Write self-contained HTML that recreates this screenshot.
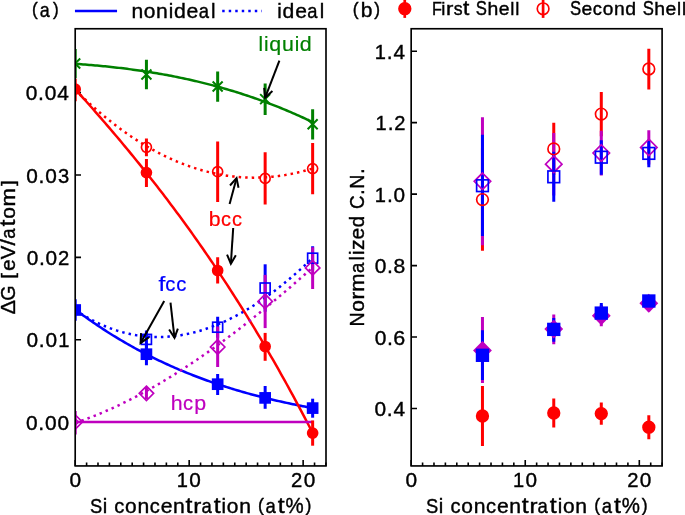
<!DOCTYPE html><html><head><meta charset="utf-8"><style>html,body{margin:0;padding:0;background:#fff;}svg{display:block;will-change:transform;}svg text{font-family:"Liberation Sans", sans-serif;}</style></head><body><svg width="685" height="515" viewBox="0 0 685 515" font-family="&quot;Liberation Sans&quot;, sans-serif" font-size="20">
<rect width="685" height="515" fill="#ffffff"/>
<defs><clipPath id="ca"><rect x="75.2" y="28.75" width="250.80" height="437.19"/></clipPath><clipPath id="cb"><rect x="411.17" y="28.75" width="250.93" height="437.19"/></clipPath></defs>
<path d="M75.20,465.94V460.11M86.60,465.94V462.61M97.99,465.94V462.61M109.39,465.94V462.61M120.79,465.94V462.61M132.19,465.94V462.61M143.58,465.94V462.61M154.98,465.94V462.61M166.38,465.94V462.61M177.77,465.94V462.61M189.17,465.94V460.11M200.57,465.94V462.61M211.96,465.94V462.61M223.36,465.94V462.61M234.76,465.94V462.61M246.16,465.94V462.61M257.55,465.94V462.61M268.95,465.94V462.61M280.35,465.94V462.61M291.74,465.94V462.61M303.14,465.94V460.11M314.54,465.94V462.61M325.93,465.94V462.61M75.20,422.20H81.03M75.20,339.80H81.03M75.20,257.40H81.03M75.20,175.00H81.03M75.20,92.60H81.03" stroke="#000" stroke-width="1.6" fill="none"/>
<g clip-path="url(#ca)">
<path d="M75.20,63.82 L77.20,63.96 L79.19,64.11 L81.19,64.25 L83.18,64.40 L85.18,64.56 L87.17,64.72 L89.17,64.88 L91.17,65.05 L93.16,65.22 L95.16,65.40 L97.15,65.58 L99.15,65.76 L101.15,65.95 L103.14,66.15 L105.14,66.35 L107.13,66.55 L109.13,66.76 L111.12,66.97 L113.12,67.19 L115.12,67.41 L117.11,67.64 L119.11,67.88 L121.10,68.11 L123.10,68.36 L125.09,68.60 L127.09,68.86 L129.09,69.12 L131.08,69.38 L133.08,69.65 L135.07,69.92 L137.07,70.20 L139.07,70.49 L141.06,70.78 L143.06,71.08 L145.05,71.38 L147.05,71.69 L149.04,72.00 L151.04,72.32 L153.04,72.65 L155.03,72.98 L157.03,73.32 L159.02,73.66 L161.02,74.01 L163.02,74.37 L165.01,74.73 L167.01,75.10 L169.00,75.47 L171.00,75.85 L172.99,76.24 L174.99,76.63 L176.99,77.03 L178.98,77.44 L180.98,77.85 L182.97,78.27 L184.97,78.70 L186.96,79.13 L188.96,79.57 L190.96,80.02 L192.95,80.47 L194.95,80.93 L196.94,81.40 L198.94,81.87 L200.94,82.35 L202.93,82.84 L204.93,83.34 L206.92,83.84 L208.92,84.35 L210.91,84.87 L212.91,85.39 L214.91,85.93 L216.90,86.47 L218.90,87.01 L220.89,87.57 L222.89,88.13 L224.88,88.70 L226.88,89.28 L228.88,89.87 L230.87,90.46 L232.87,91.06 L234.86,91.67 L236.86,92.29 L238.86,92.92 L240.85,93.55 L242.85,94.19 L244.84,94.84 L246.84,95.50 L248.83,96.17 L250.83,96.84 L252.83,97.53 L254.82,98.22 L256.82,98.92 L258.81,99.63 L260.81,100.35 L262.81,101.07 L264.80,101.81 L266.80,102.55 L268.79,103.31 L270.79,104.07 L272.78,104.84 L274.78,105.62 L276.78,106.41 L278.77,107.21 L280.77,108.01 L282.76,108.83 L284.76,109.65 L286.75,110.49 L288.75,111.33 L290.75,112.19 L292.74,113.05 L294.74,113.92 L296.73,114.80 L298.73,115.70 L300.73,116.60 L302.72,117.51 L304.72,118.43 L306.71,119.36 L308.71,120.30 L310.70,121.25 L312.70,122.21" fill="none" stroke="#008000" stroke-width="2.5" stroke-linejoin="round" stroke-linecap="square"/>
<path d="M75.20,309.50 L77.20,310.99 L79.19,312.47 L81.19,313.94 L83.18,315.39 L85.18,316.82 L87.17,318.24 L89.17,319.65 L91.17,321.04 L93.16,322.42 L95.16,323.78 L97.15,325.13 L99.15,326.47 L101.15,327.79 L103.14,329.10 L105.14,330.39 L107.13,331.68 L109.13,332.94 L111.12,334.20 L113.12,335.44 L115.12,336.67 L117.11,337.88 L119.11,339.08 L121.10,340.27 L123.10,341.45 L125.09,342.61 L127.09,343.76 L129.09,344.90 L131.08,346.02 L133.08,347.14 L135.07,348.24 L137.07,349.33 L139.07,350.40 L141.06,351.47 L143.06,352.52 L145.05,353.56 L147.05,354.59 L149.04,355.61 L151.04,356.61 L153.04,357.61 L155.03,358.59 L157.03,359.56 L159.02,360.52 L161.02,361.47 L163.02,362.41 L165.01,363.34 L167.01,364.25 L169.00,365.16 L171.00,366.06 L172.99,366.94 L174.99,367.82 L176.99,368.68 L178.98,369.53 L180.98,370.38 L182.97,371.21 L184.97,372.03 L186.96,372.85 L188.96,373.65 L190.96,374.44 L192.95,375.23 L194.95,376.00 L196.94,376.77 L198.94,377.52 L200.94,378.27 L202.93,379.01 L204.93,379.74 L206.92,380.46 L208.92,381.17 L210.91,381.87 L212.91,382.56 L214.91,383.24 L216.90,383.92 L218.90,384.59 L220.89,385.25 L222.89,385.90 L224.88,386.54 L226.88,387.17 L228.88,387.80 L230.87,388.42 L232.87,389.03 L234.86,389.63 L236.86,390.23 L238.86,390.82 L240.85,391.40 L242.85,391.97 L244.84,392.53 L246.84,393.09 L248.83,393.64 L250.83,394.19 L252.83,394.73 L254.82,395.26 L256.82,395.78 L258.81,396.30 L260.81,396.81 L262.81,397.31 L264.80,397.81 L266.80,398.30 L268.79,398.79 L270.79,399.27 L272.78,399.74 L274.78,400.21 L276.78,400.67 L278.77,401.13 L280.77,401.58 L282.76,402.02 L284.76,402.46 L286.75,402.90 L288.75,403.33 L290.75,403.75 L292.74,404.17 L294.74,404.58 L296.73,404.99 L298.73,405.40 L300.73,405.79 L302.72,406.19 L304.72,406.58 L306.71,406.97 L308.71,407.35 L310.70,407.72 L312.70,408.10" fill="none" stroke="#0000ff" stroke-width="2.5" stroke-linejoin="round" stroke-linecap="square"/>
<path d="M75.20,310.07 L77.20,311.39 L79.19,312.67 L81.19,313.91 L83.18,315.13 L85.18,316.30 L87.17,317.45 L89.17,318.56 L91.17,319.63 L93.16,320.68 L95.16,321.68 L97.15,322.66 L99.15,323.60 L101.15,324.51 L103.14,325.39 L105.14,326.23 L107.13,327.04 L109.13,327.82 L111.12,328.57 L113.12,329.28 L115.12,329.96 L117.11,330.61 L119.11,331.23 L121.10,331.82 L123.10,332.37 L125.09,332.89 L127.09,333.38 L129.09,333.84 L131.08,334.27 L133.08,334.67 L135.07,335.03 L137.07,335.37 L139.07,335.67 L141.06,335.95 L143.06,336.19 L145.05,336.40 L147.05,336.58 L149.04,336.74 L151.04,336.86 L153.04,336.95 L155.03,337.01 L157.03,337.05 L159.02,337.05 L161.02,337.02 L163.02,336.97 L165.01,336.88 L167.01,336.77 L169.00,336.62 L171.00,336.45 L172.99,336.25 L174.99,336.02 L176.99,335.76 L178.98,335.48 L180.98,335.16 L182.97,334.82 L184.97,334.45 L186.96,334.05 L188.96,333.62 L190.96,333.17 L192.95,332.69 L194.95,332.18 L196.94,331.64 L198.94,331.08 L200.94,330.49 L202.93,329.87 L204.93,329.23 L206.92,328.55 L208.92,327.86 L210.91,327.13 L212.91,326.38 L214.91,325.60 L216.90,324.80 L218.90,323.97 L220.89,323.12 L222.89,322.24 L224.88,321.33 L226.88,320.40 L228.88,319.44 L230.87,318.46 L232.87,317.45 L234.86,316.42 L236.86,315.36 L238.86,314.28 L240.85,313.17 L242.85,312.04 L244.84,310.88 L246.84,309.70 L248.83,308.50 L250.83,307.27 L252.83,306.02 L254.82,304.74 L256.82,303.44 L258.81,302.12 L260.81,300.77 L262.81,299.40 L264.80,298.00 L266.80,296.59 L268.79,295.15 L270.79,293.68 L272.78,292.20 L274.78,290.69 L276.78,289.16 L278.77,287.61 L280.77,286.03 L282.76,284.43 L284.76,282.81 L286.75,281.17 L288.75,279.51 L290.75,277.82 L292.74,276.12 L294.74,274.39 L296.73,272.64 L298.73,270.87 L300.73,269.07 L302.72,267.26 L304.72,265.43 L306.71,263.57 L308.71,261.70 L310.70,259.80 L312.70,257.89" fill="none" stroke="#0000ff" stroke-width="2.5" stroke-linejoin="round" stroke-linecap="butt" stroke-dasharray="2.46 4.06"/>
<path d="M75.20,89.17 L77.20,91.38 L79.19,93.60 L81.19,95.82 L83.18,98.05 L85.18,100.28 L87.17,102.52 L89.17,104.77 L91.17,107.03 L93.16,109.29 L95.16,111.56 L97.15,113.84 L99.15,116.12 L101.15,118.42 L103.14,120.72 L105.14,123.03 L107.13,125.35 L109.13,127.67 L111.12,130.01 L113.12,132.35 L115.12,134.70 L117.11,137.06 L119.11,139.43 L121.10,141.81 L123.10,144.20 L125.09,146.59 L127.09,149.00 L129.09,151.42 L131.08,153.84 L133.08,156.28 L135.07,158.72 L137.07,161.18 L139.07,163.65 L141.06,166.12 L143.06,168.61 L145.05,171.11 L147.05,173.62 L149.04,176.14 L151.04,178.67 L153.04,181.21 L155.03,183.77 L157.03,186.33 L159.02,188.91 L161.02,191.50 L163.02,194.10 L165.01,196.71 L167.01,199.34 L169.00,201.98 L171.00,204.63 L172.99,207.29 L174.99,209.96 L176.99,212.65 L178.98,215.35 L180.98,218.07 L182.97,220.80 L184.97,223.54 L186.96,226.29 L188.96,229.06 L190.96,231.84 L192.95,234.64 L194.95,237.45 L196.94,240.27 L198.94,243.11 L200.94,245.97 L202.93,248.83 L204.93,251.72 L206.92,254.61 L208.92,257.53 L210.91,260.45 L212.91,263.40 L214.91,266.36 L216.90,269.33 L218.90,272.32 L220.89,275.32 L222.89,278.35 L224.88,281.38 L226.88,284.44 L228.88,287.51 L230.87,290.60 L232.87,293.70 L234.86,296.82 L236.86,299.96 L238.86,303.11 L240.85,306.28 L242.85,309.47 L244.84,312.68 L246.84,315.90 L248.83,319.14 L250.83,322.40 L252.83,325.68 L254.82,328.97 L256.82,332.29 L258.81,335.62 L260.81,338.97 L262.81,342.34 L264.80,345.73 L266.80,349.13 L268.79,352.56 L270.79,356.01 L272.78,359.47 L274.78,362.95 L276.78,366.46 L278.77,369.98 L280.77,373.52 L282.76,377.09 L284.76,380.67 L286.75,384.27 L288.75,387.90 L290.75,391.54 L292.74,395.21 L294.74,398.89 L296.73,402.60 L298.73,406.33 L300.73,410.08 L302.72,413.85 L304.72,417.64 L306.71,421.46 L308.71,425.29 L310.70,429.15 L312.70,433.03" fill="none" stroke="#ff0000" stroke-width="2.5" stroke-linejoin="round" stroke-linecap="square"/>
<path d="M75.20,89.92 L77.20,91.89 L79.19,93.83 L81.19,95.75 L83.18,97.65 L85.18,99.52 L87.17,101.38 L89.17,103.21 L91.17,105.01 L93.16,106.80 L95.16,108.56 L97.15,110.30 L99.15,112.01 L101.15,113.71 L103.14,115.38 L105.14,117.03 L107.13,118.65 L109.13,120.26 L111.12,121.84 L113.12,123.40 L115.12,124.94 L117.11,126.45 L119.11,127.94 L121.10,129.41 L123.10,130.86 L125.09,132.28 L127.09,133.69 L129.09,135.07 L131.08,136.42 L133.08,137.76 L135.07,139.07 L137.07,140.36 L139.07,141.63 L141.06,142.88 L143.06,144.10 L145.05,145.30 L147.05,146.48 L149.04,147.64 L151.04,148.78 L153.04,149.89 L155.03,150.98 L157.03,152.05 L159.02,153.10 L161.02,154.12 L163.02,155.12 L165.01,156.10 L167.01,157.06 L169.00,158.00 L171.00,158.91 L172.99,159.81 L174.99,160.68 L176.99,161.53 L178.98,162.35 L180.98,163.16 L182.97,163.94 L184.97,164.70 L186.96,165.44 L188.96,166.16 L190.96,166.85 L192.95,167.52 L194.95,168.18 L196.94,168.81 L198.94,169.41 L200.94,170.00 L202.93,170.56 L204.93,171.11 L206.92,171.63 L208.92,172.12 L210.91,172.60 L212.91,173.06 L214.91,173.49 L216.90,173.90 L218.90,174.29 L220.89,174.66 L222.89,175.01 L224.88,175.33 L226.88,175.64 L228.88,175.92 L230.87,176.18 L232.87,176.42 L234.86,176.64 L236.86,176.83 L238.86,177.01 L240.85,177.16 L242.85,177.29 L244.84,177.40 L246.84,177.49 L248.83,177.56 L250.83,177.60 L252.83,177.63 L254.82,177.63 L256.82,177.61 L258.81,177.57 L260.81,177.51 L262.81,177.43 L264.80,177.33 L266.80,177.20 L268.79,177.05 L270.79,176.89 L272.78,176.70 L274.78,176.49 L276.78,176.25 L278.77,176.00 L280.77,175.73 L282.76,175.43 L284.76,175.12 L286.75,174.78 L288.75,174.42 L290.75,174.04 L292.74,173.64 L294.74,173.22 L296.73,172.77 L298.73,172.31 L300.73,171.82 L302.72,171.32 L304.72,170.79 L306.71,170.24 L308.71,169.67 L310.70,169.08 L312.70,168.47" fill="none" stroke="#ff0000" stroke-width="2.5" stroke-linejoin="round" stroke-linecap="butt" stroke-dasharray="2.46 4.06"/>
<path d="M75.20,422.00 L312.70,422.00" fill="none" stroke="#bf00bf" stroke-width="2.5" stroke-linejoin="round" stroke-linecap="square"/>
<path d="M75.20,422.90 L77.20,422.22 L79.19,421.53 L81.19,420.83 L83.18,420.11 L85.18,419.38 L87.17,418.64 L89.17,417.89 L91.17,417.12 L93.16,416.34 L95.16,415.54 L97.15,414.74 L99.15,413.92 L101.15,413.09 L103.14,412.24 L105.14,411.39 L107.13,410.52 L109.13,409.64 L111.12,408.74 L113.12,407.84 L115.12,406.92 L117.11,405.99 L119.11,405.05 L121.10,404.09 L123.10,403.13 L125.09,402.15 L127.09,401.16 L129.09,400.16 L131.08,399.15 L133.08,398.12 L135.07,397.09 L137.07,396.04 L139.07,394.98 L141.06,393.91 L143.06,392.83 L145.05,391.74 L147.05,390.64 L149.04,389.53 L151.04,388.40 L153.04,387.27 L155.03,386.12 L157.03,384.97 L159.02,383.80 L161.02,382.62 L163.02,381.43 L165.01,380.24 L167.01,379.03 L169.00,377.81 L171.00,376.58 L172.99,375.34 L174.99,374.09 L176.99,372.83 L178.98,371.56 L180.98,370.28 L182.97,368.99 L184.97,367.69 L186.96,366.39 L188.96,365.07 L190.96,363.74 L192.95,362.40 L194.95,361.06 L196.94,359.70 L198.94,358.34 L200.94,356.96 L202.93,355.58 L204.93,354.19 L206.92,352.79 L208.92,351.38 L210.91,349.96 L212.91,348.53 L214.91,347.09 L216.90,345.65 L218.90,344.19 L220.89,342.73 L222.89,341.26 L224.88,339.78 L226.88,338.30 L228.88,336.80 L230.87,335.30 L232.87,333.78 L234.86,332.26 L236.86,330.74 L238.86,329.20 L240.85,327.66 L242.85,326.11 L244.84,324.55 L246.84,322.98 L248.83,321.41 L250.83,319.83 L252.83,318.24 L254.82,316.64 L256.82,315.04 L258.81,313.43 L260.81,311.81 L262.81,310.19 L264.80,308.55 L266.80,306.92 L268.79,305.27 L270.79,303.62 L272.78,301.96 L274.78,300.29 L276.78,298.62 L278.77,296.94 L280.77,295.26 L282.76,293.56 L284.76,291.87 L286.75,290.16 L288.75,288.45 L290.75,286.73 L292.74,285.01 L294.74,283.28 L296.73,281.55 L298.73,279.81 L300.73,278.06 L302.72,276.31 L304.72,274.55 L306.71,272.79 L308.71,271.02 L310.70,269.25 L312.70,267.47" fill="none" stroke="#bf00bf" stroke-width="2.5" stroke-linejoin="round" stroke-linecap="butt" stroke-dasharray="2.46 4.06"/>
<line x1="75.20" y1="49.05" x2="75.20" y2="78.20" stroke="#008000" stroke-width="3.0"/>
<line x1="146.43" y1="59.80" x2="146.43" y2="89.20" stroke="#008000" stroke-width="3.0"/>
<line x1="217.66" y1="71.40" x2="217.66" y2="101.70" stroke="#008000" stroke-width="3.0"/>
<line x1="265.15" y1="83.50" x2="265.15" y2="114.95" stroke="#008000" stroke-width="3.0"/>
<line x1="312.64" y1="109.30" x2="312.64" y2="139.60" stroke="#008000" stroke-width="3.0"/>
<line x1="75.20" y1="299.30" x2="75.20" y2="320.70" stroke="#0000ff" stroke-width="3.0"/>
<line x1="146.43" y1="343.20" x2="146.43" y2="365.20" stroke="#0000ff" stroke-width="3.0"/>
<line x1="217.66" y1="373.90" x2="217.66" y2="394.90" stroke="#0000ff" stroke-width="3.0"/>
<line x1="265.15" y1="386.00" x2="265.15" y2="408.80" stroke="#0000ff" stroke-width="3.0"/>
<line x1="312.64" y1="398.70" x2="312.64" y2="417.70" stroke="#0000ff" stroke-width="3.0"/>
<line x1="146.43" y1="330.50" x2="146.43" y2="348.50" stroke="#0000ff" stroke-width="3.0"/>
<line x1="217.66" y1="316.65" x2="217.66" y2="337.70" stroke="#0000ff" stroke-width="3.0"/>
<line x1="265.15" y1="264.30" x2="265.15" y2="311.70" stroke="#0000ff" stroke-width="3.0"/>
<line x1="312.64" y1="246.30" x2="312.64" y2="270.30" stroke="#0000ff" stroke-width="3.0"/>
<line x1="75.20" y1="78.80" x2="75.20" y2="101.30" stroke="#ff0000" stroke-width="3.0"/>
<line x1="146.43" y1="159.10" x2="146.43" y2="186.90" stroke="#ff0000" stroke-width="3.0"/>
<line x1="217.66" y1="257.30" x2="217.66" y2="283.60" stroke="#ff0000" stroke-width="3.0"/>
<line x1="265.15" y1="332.90" x2="265.15" y2="360.80" stroke="#ff0000" stroke-width="3.0"/>
<line x1="312.64" y1="420.50" x2="312.64" y2="445.70" stroke="#ff0000" stroke-width="3.0"/>
<line x1="146.43" y1="138.40" x2="146.43" y2="156.20" stroke="#ff0000" stroke-width="3.0"/>
<line x1="217.66" y1="141.40" x2="217.66" y2="202.00" stroke="#ff0000" stroke-width="3.0"/>
<line x1="265.15" y1="152.20" x2="265.15" y2="204.60" stroke="#ff0000" stroke-width="3.0"/>
<line x1="312.64" y1="142.90" x2="312.64" y2="194.20" stroke="#ff0000" stroke-width="3.0"/>
<line x1="75.20" y1="411.00" x2="75.20" y2="434.60" stroke="#bf00bf" stroke-width="3.0"/>
<line x1="146.43" y1="387.00" x2="146.43" y2="399.10" stroke="#bf00bf" stroke-width="3.0"/>
<line x1="217.66" y1="326.60" x2="217.66" y2="366.90" stroke="#bf00bf" stroke-width="3.0"/>
<line x1="265.15" y1="274.90" x2="265.15" y2="328.10" stroke="#bf00bf" stroke-width="3.0"/>
<line x1="312.64" y1="247.20" x2="312.64" y2="289.00" stroke="#bf00bf" stroke-width="3.0"/>
<path d="M70.20,58.50L80.20,68.50M70.20,68.50L80.20,58.50" stroke="#008000" stroke-width="2.0" fill="none"/>
<path d="M141.43,69.50L151.43,79.50M141.43,79.50L151.43,69.50" stroke="#008000" stroke-width="2.0" fill="none"/>
<path d="M212.66,81.55L222.66,91.55M212.66,91.55L222.66,81.55" stroke="#008000" stroke-width="2.0" fill="none"/>
<path d="M260.15,94.10L270.15,104.10M260.15,104.10L270.15,94.10" stroke="#008000" stroke-width="2.0" fill="none"/>
<path d="M307.64,119.30L317.64,129.30M307.64,129.30L317.64,119.30" stroke="#008000" stroke-width="2.0" fill="none"/>
<circle cx="75.20" cy="89.20" r="5.00" fill="#ff0000" stroke="#ff0000" stroke-width="1.67"/>
<circle cx="146.43" cy="172.55" r="5.00" fill="#ff0000" stroke="#ff0000" stroke-width="1.67"/>
<circle cx="217.66" cy="270.50" r="5.00" fill="#ff0000" stroke="#ff0000" stroke-width="1.67"/>
<circle cx="265.15" cy="346.50" r="5.00" fill="#ff0000" stroke="#ff0000" stroke-width="1.67"/>
<circle cx="312.64" cy="433.10" r="5.00" fill="#ff0000" stroke="#ff0000" stroke-width="1.67"/>
<circle cx="146.43" cy="147.25" r="5.00" fill="none" stroke="#ff0000" stroke-width="1.67"/>
<circle cx="217.66" cy="171.70" r="5.00" fill="none" stroke="#ff0000" stroke-width="1.67"/>
<circle cx="265.15" cy="178.40" r="5.00" fill="none" stroke="#ff0000" stroke-width="1.67"/>
<circle cx="312.64" cy="168.60" r="5.00" fill="none" stroke="#ff0000" stroke-width="1.67"/>
<rect x="70.20" y="305.00" width="10.00" height="10.00" fill="#0000ff" stroke="#0000ff" stroke-width="1.67" stroke-linejoin="miter"/>
<rect x="141.43" y="349.20" width="10.00" height="10.00" fill="#0000ff" stroke="#0000ff" stroke-width="1.67" stroke-linejoin="miter"/>
<rect x="212.66" y="379.20" width="10.00" height="10.00" fill="#0000ff" stroke="#0000ff" stroke-width="1.67" stroke-linejoin="miter"/>
<rect x="260.15" y="392.90" width="10.00" height="10.00" fill="#0000ff" stroke="#0000ff" stroke-width="1.67" stroke-linejoin="miter"/>
<rect x="307.64" y="403.10" width="10.00" height="10.00" fill="#0000ff" stroke="#0000ff" stroke-width="1.67" stroke-linejoin="miter"/>
<rect x="141.43" y="334.40" width="10.00" height="10.00" fill="none" stroke="#0000ff" stroke-width="1.67" stroke-linejoin="miter"/>
<rect x="212.66" y="322.20" width="10.00" height="10.00" fill="none" stroke="#0000ff" stroke-width="1.67" stroke-linejoin="miter"/>
<rect x="260.15" y="283.00" width="10.00" height="10.00" fill="none" stroke="#0000ff" stroke-width="1.67" stroke-linejoin="miter"/>
<rect x="307.64" y="253.20" width="10.00" height="10.00" fill="none" stroke="#0000ff" stroke-width="1.67" stroke-linejoin="miter"/>
<path d="M75.20,414.80L82.40,422.00L75.20,429.20L68.00,422.00Z" fill="none" stroke="#bf00bf" stroke-width="1.67" stroke-linejoin="miter"/>
<path d="M146.43,386.10L153.63,393.30L146.43,400.50L139.23,393.30Z" fill="none" stroke="#bf00bf" stroke-width="1.67" stroke-linejoin="miter"/>
<path d="M217.66,339.80L224.86,347.00L217.66,354.20L210.46,347.00Z" fill="none" stroke="#bf00bf" stroke-width="1.67" stroke-linejoin="miter"/>
<path d="M265.15,294.20L272.35,301.40L265.15,308.60L257.95,301.40Z" fill="none" stroke="#bf00bf" stroke-width="1.67" stroke-linejoin="miter"/>
<path d="M312.64,260.70L319.84,267.90L312.64,275.10L305.44,267.90Z" fill="none" stroke="#bf00bf" stroke-width="1.67" stroke-linejoin="miter"/>
<path d="M75.20,418.80L78.40,422.00L75.20,425.20L72.00,422.00Z" fill="none" stroke="#bf00bf" stroke-width="1.67" stroke-linejoin="miter"/>
</g>
<rect x="75.2" y="28.75" width="250.80" height="437.19" fill="none" stroke="#000" stroke-width="1.65"/>
<line x1="279.40" y1="60.60" x2="265.16" y2="97.67" stroke="#000000" stroke-width="2.0"/>
<path d="M264.21,87.87L265.16,97.67L272.42,91.03" fill="none" stroke="#000000" stroke-width="2.0" stroke-linejoin="miter"/>
<line x1="229.60" y1="204.10" x2="236.54" y2="178.17" stroke="#000000" stroke-width="2.0"/>
<path d="M238.52,187.80L236.54,178.17L230.02,185.53" fill="none" stroke="#000000" stroke-width="2.0" stroke-linejoin="miter"/>
<line x1="233.20" y1="228.00" x2="230.87" y2="263.70" stroke="#000000" stroke-width="2.0"/>
<path d="M227.05,254.63L230.87,263.70L235.83,255.21" fill="none" stroke="#000000" stroke-width="2.0" stroke-linejoin="miter"/>
<line x1="164.20" y1="300.90" x2="140.59" y2="342.93" stroke="#000000" stroke-width="2.0"/>
<path d="M141.06,333.10L140.59,342.93L148.74,337.41" fill="none" stroke="#000000" stroke-width="2.0" stroke-linejoin="miter"/>
<line x1="170.50" y1="302.60" x2="174.49" y2="337.81" stroke="#000000" stroke-width="2.0"/>
<path d="M169.13,329.56L174.49,337.81L177.87,328.57" fill="none" stroke="#000000" stroke-width="2.0" stroke-linejoin="miter"/>
<text transform="translate(259.90,50.85)" fill="#008000" stroke="#008000" stroke-width="0.2"><tspan x="-1.39" y="0.00" font-size="20.761" textLength="4.552" lengthAdjust="spacingAndGlyphs">l</tspan><tspan x="4.12" y="0.00" font-size="20.761" textLength="4.552" lengthAdjust="spacingAndGlyphs">i</tspan><tspan x="9.34" y="0.00" font-size="20.609" textLength="11.922" lengthAdjust="spacingAndGlyphs">q</tspan><tspan x="22.01" y="0.00" font-size="20.989" textLength="11.860" lengthAdjust="spacingAndGlyphs">u</tspan><tspan x="34.74" y="0.00" font-size="20.761" textLength="4.552" lengthAdjust="spacingAndGlyphs">i</tspan><tspan x="39.96" y="0.00" font-size="20.761" textLength="11.931" lengthAdjust="spacingAndGlyphs">d</tspan></text>
<text transform="translate(210.14,225.70)" fill="#ff0000" stroke="#ff0000" stroke-width="0.2"><tspan x="-1.31" y="0.00" font-size="20.761" textLength="11.824" lengthAdjust="spacingAndGlyphs">b</tspan><tspan x="10.98" y="0.00" font-size="20.609" textLength="10.005" lengthAdjust="spacingAndGlyphs">c</tspan><tspan x="21.87" y="0.00" font-size="20.609" textLength="10.005" lengthAdjust="spacingAndGlyphs">c</tspan></text>
<text transform="translate(158.62,291.20)" fill="#0000ff" stroke="#0000ff" stroke-width="0.2"><tspan x="-0.18" y="0.00" font-size="20.789" textLength="6.873" lengthAdjust="spacingAndGlyphs">f</tspan><tspan x="6.67" y="0.00" font-size="20.609" textLength="10.109" lengthAdjust="spacingAndGlyphs">c</tspan><tspan x="17.56" y="0.00" font-size="20.609" textLength="10.109" lengthAdjust="spacingAndGlyphs">c</tspan></text>
<text transform="translate(172.09,410.20)" fill="#bf00bf" stroke="#bf00bf" stroke-width="0.2"><tspan x="-1.45" y="0.00" font-size="20.761" textLength="11.882" lengthAdjust="spacingAndGlyphs">h</tspan><tspan x="10.93" y="0.00" font-size="20.609" textLength="10.069" lengthAdjust="spacingAndGlyphs">c</tspan><tspan x="22.09" y="0.00" font-size="20.627" textLength="11.900" lengthAdjust="spacingAndGlyphs">p</tspan></text>
<text transform="translate(26.83,429.75)" fill="#000000" stroke="#000000" stroke-width="0.4"><tspan x="-0.82" y="0.00" font-size="21.046" textLength="11.613" lengthAdjust="spacingAndGlyphs">0</tspan><tspan x="11.47" y="0.00" font-size="22.964" textLength="5.916" lengthAdjust="spacingAndGlyphs">.</tspan><tspan x="18.07" y="0.00" font-size="21.046" textLength="11.613" lengthAdjust="spacingAndGlyphs">0</tspan><tspan x="30.67" y="0.00" font-size="21.046" textLength="11.613" lengthAdjust="spacingAndGlyphs">0</tspan></text>
<text transform="translate(27.35,347.35)" fill="#000000" stroke="#000000" stroke-width="0.4"><tspan x="-0.80" y="0.00" font-size="21.046" textLength="11.575" lengthAdjust="spacingAndGlyphs">0</tspan><tspan x="11.48" y="0.00" font-size="22.964" textLength="5.897" lengthAdjust="spacingAndGlyphs">.</tspan><tspan x="18.09" y="0.00" font-size="21.046" textLength="11.575" lengthAdjust="spacingAndGlyphs">0</tspan><tspan x="30.79" y="0.00" font-size="20.980" textLength="11.183" lengthAdjust="spacingAndGlyphs">1</tspan></text>
<text transform="translate(27.50,264.95)" fill="#000000" stroke="#000000" stroke-width="0.4"><tspan x="-0.80" y="0.00" font-size="21.046" textLength="11.581" lengthAdjust="spacingAndGlyphs">0</tspan><tspan x="11.48" y="0.00" font-size="22.964" textLength="5.900" lengthAdjust="spacingAndGlyphs">.</tspan><tspan x="18.09" y="0.00" font-size="21.046" textLength="11.581" lengthAdjust="spacingAndGlyphs">0</tspan><tspan x="30.58" y="0.00" font-size="21.046" textLength="11.266" lengthAdjust="spacingAndGlyphs">2</tspan></text>
<text transform="translate(27.10,182.55)" fill="#000000" stroke="#000000" stroke-width="0.4"><tspan x="-0.80" y="0.00" font-size="21.046" textLength="11.577" lengthAdjust="spacingAndGlyphs">0</tspan><tspan x="11.48" y="0.00" font-size="22.964" textLength="5.898" lengthAdjust="spacingAndGlyphs">.</tspan><tspan x="18.09" y="0.00" font-size="21.046" textLength="11.577" lengthAdjust="spacingAndGlyphs">0</tspan><tspan x="30.89" y="0.00" font-size="21.046" textLength="11.231" lengthAdjust="spacingAndGlyphs">3</tspan></text>
<text transform="translate(26.63,100.15)" fill="#000000" stroke="#000000" stroke-width="0.4"><tspan x="-0.82" y="0.00" font-size="21.046" textLength="11.613" lengthAdjust="spacingAndGlyphs">0</tspan><tspan x="11.47" y="0.00" font-size="22.964" textLength="5.916" lengthAdjust="spacingAndGlyphs">.</tspan><tspan x="18.07" y="0.00" font-size="21.046" textLength="11.613" lengthAdjust="spacingAndGlyphs">0</tspan><tspan x="30.67" y="0.00" font-size="20.980" textLength="11.614" lengthAdjust="spacingAndGlyphs">4</tspan></text>
<text transform="translate(70.31,487.10)" fill="#000000" stroke="#000000" stroke-width="0.4"><tspan x="-0.82" y="0.00" font-size="21.046" textLength="11.608" lengthAdjust="spacingAndGlyphs">0</tspan></text>
<text transform="translate(178.42,487.10)" fill="#000000" stroke="#000000" stroke-width="0.4"><tspan x="-1.55" y="0.00" font-size="20.980" textLength="11.155" lengthAdjust="spacingAndGlyphs">1</tspan><tspan x="10.94" y="0.00" font-size="21.046" textLength="11.546" lengthAdjust="spacingAndGlyphs">0</tspan></text>
<text transform="translate(292.03,487.10)" fill="#000000" stroke="#000000" stroke-width="0.4"><tspan x="-1.04" y="0.00" font-size="21.046" textLength="11.242" lengthAdjust="spacingAndGlyphs">2</tspan><tspan x="11.66" y="0.00" font-size="21.046" textLength="11.556" lengthAdjust="spacingAndGlyphs">0</tspan></text>
<text transform="translate(90.90,512.65)" fill="#000000" stroke="#000000" stroke-width="0.4"><tspan x="-1.03" y="0.00" font-size="21.046" textLength="12.249" lengthAdjust="spacingAndGlyphs">S</tspan><tspan x="11.78" y="0.00" font-size="20.761" textLength="4.521" lengthAdjust="spacingAndGlyphs">i</tspan> <tspan x="23.29" y="0.00" font-size="20.609" textLength="10.034" lengthAdjust="spacingAndGlyphs">c</tspan><tspan x="34.23" y="0.00" font-size="20.609" textLength="11.655" lengthAdjust="spacingAndGlyphs">o</tspan><tspan x="46.55" y="0.00" font-size="20.609" textLength="11.779" lengthAdjust="spacingAndGlyphs">n</tspan><tspan x="58.88" y="0.00" font-size="20.609" textLength="10.034" lengthAdjust="spacingAndGlyphs">c</tspan><tspan x="69.82" y="0.00" font-size="20.609" textLength="11.795" lengthAdjust="spacingAndGlyphs">e</tspan><tspan x="82.21" y="0.00" font-size="20.609" textLength="11.779" lengthAdjust="spacingAndGlyphs">n</tspan><tspan x="94.70" y="0.00" font-size="21.505" textLength="6.913" lengthAdjust="spacingAndGlyphs">t</tspan><tspan x="102.47" y="0.00" font-size="20.609" textLength="8.028" lengthAdjust="spacingAndGlyphs">r</tspan><tspan x="110.49" y="0.00" font-size="20.609" textLength="10.280" lengthAdjust="spacingAndGlyphs">a</tspan><tspan x="122.77" y="0.00" font-size="21.505" textLength="6.913" lengthAdjust="spacingAndGlyphs">t</tspan><tspan x="130.68" y="0.00" font-size="20.761" textLength="4.521" lengthAdjust="spacingAndGlyphs">i</tspan><tspan x="135.93" y="0.00" font-size="20.609" textLength="11.655" lengthAdjust="spacingAndGlyphs">o</tspan><tspan x="148.25" y="0.00" font-size="20.609" textLength="11.779" lengthAdjust="spacingAndGlyphs">n</tspan> <tspan x="167.17" y="-1.31" font-size="18.928" textLength="5.877" lengthAdjust="spacingAndGlyphs">(</tspan><tspan x="174.65" y="0.00" font-size="20.609" textLength="10.280" lengthAdjust="spacingAndGlyphs">a</tspan><tspan x="186.92" y="0.00" font-size="21.505" textLength="6.913" lengthAdjust="spacingAndGlyphs">t</tspan><tspan x="194.67" y="0.00" font-size="21.179" textLength="18.156" lengthAdjust="spacingAndGlyphs">%</tspan><tspan x="214.54" y="-1.31" font-size="18.928" textLength="5.877" lengthAdjust="spacingAndGlyphs">)</tspan></text>
<text transform="translate(15.10,314.00) rotate(-90)" fill="#000000" stroke="#000000" stroke-width="0.4"><tspan x="-0.59" y="0.00" font-size="20.980" textLength="14.408" lengthAdjust="spacingAndGlyphs">Δ</tspan><tspan x="13.36" y="0.00" font-size="21.046" textLength="15.343" lengthAdjust="spacingAndGlyphs">G</tspan> <tspan x="35.21" y="-1.32" font-size="18.939" textLength="5.758" lengthAdjust="spacingAndGlyphs">[</tspan><tspan x="42.92" y="0.00" font-size="20.609" textLength="11.843" lengthAdjust="spacingAndGlyphs">e</tspan><tspan x="54.87" y="0.00" font-size="20.980" textLength="13.555" lengthAdjust="spacingAndGlyphs">V</tspan><tspan x="68.52" y="0.00" font-size="19.920" textLength="6.453" lengthAdjust="spacingAndGlyphs">/</tspan><tspan x="75.28" y="0.00" font-size="20.609" textLength="10.322" lengthAdjust="spacingAndGlyphs">a</tspan><tspan x="87.54" y="0.00" font-size="21.505" textLength="6.941" lengthAdjust="spacingAndGlyphs">t</tspan><tspan x="95.16" y="0.00" font-size="20.609" textLength="11.703" lengthAdjust="spacingAndGlyphs">o</tspan><tspan x="107.52" y="0.00" font-size="20.609" textLength="18.464" lengthAdjust="spacingAndGlyphs">m</tspan><tspan x="128.08" y="-1.32" font-size="18.939" textLength="5.758" lengthAdjust="spacingAndGlyphs">]</tspan></text>
<text transform="translate(33.10,16.70)" fill="#000000" stroke="#000000" stroke-width="0.4"><tspan x="-1.08" y="-1.31" font-size="18.928" textLength="5.691" lengthAdjust="spacingAndGlyphs">(</tspan><tspan x="6.58" y="0.00" font-size="20.609" textLength="9.956" lengthAdjust="spacingAndGlyphs">a</tspan><tspan x="19.89" y="-1.31" font-size="18.928" textLength="5.691" lengthAdjust="spacingAndGlyphs">)</tspan></text>
<path d="M76.20,10.90 L115.80,10.90" fill="none" stroke="#0000ff" stroke-width="2.5" stroke-linejoin="round" stroke-linecap="square"/>
<text transform="translate(132.80,17.60)" fill="#000000" stroke="#000000" stroke-width="0.4"><tspan x="-1.37" y="0.00" font-size="20.609" textLength="11.774" lengthAdjust="spacingAndGlyphs">n</tspan><tspan x="10.99" y="0.00" font-size="20.609" textLength="11.650" lengthAdjust="spacingAndGlyphs">o</tspan><tspan x="23.29" y="0.00" font-size="20.609" textLength="11.774" lengthAdjust="spacingAndGlyphs">n</tspan><tspan x="35.91" y="0.00" font-size="20.761" textLength="4.519" lengthAdjust="spacingAndGlyphs">i</tspan><tspan x="41.16" y="0.00" font-size="20.761" textLength="11.845" lengthAdjust="spacingAndGlyphs">d</tspan><tspan x="53.72" y="0.00" font-size="20.609" textLength="11.790" lengthAdjust="spacingAndGlyphs">e</tspan><tspan x="65.90" y="0.00" font-size="20.609" textLength="10.275" lengthAdjust="spacingAndGlyphs">a</tspan><tspan x="78.29" y="0.00" font-size="20.761" textLength="4.519" lengthAdjust="spacingAndGlyphs">l</tspan></text>
<path d="M222.20,10.95 L261.80,10.95" fill="none" stroke="#0000ff" stroke-width="2.5" stroke-linejoin="round" stroke-linecap="butt" stroke-dasharray="2.46 4.06"/>
<text transform="translate(278.70,17.60)" fill="#000000" stroke="#000000" stroke-width="0.4"><tspan x="-1.35" y="0.00" font-size="20.761" textLength="4.492" lengthAdjust="spacingAndGlyphs">i</tspan><tspan x="3.92" y="0.00" font-size="20.761" textLength="11.774" lengthAdjust="spacingAndGlyphs">d</tspan><tspan x="16.47" y="0.00" font-size="20.609" textLength="11.719" lengthAdjust="spacingAndGlyphs">e</tspan><tspan x="28.65" y="0.00" font-size="20.609" textLength="10.214" lengthAdjust="spacingAndGlyphs">a</tspan><tspan x="41.02" y="0.00" font-size="20.761" textLength="4.492" lengthAdjust="spacingAndGlyphs">l</tspan></text>
<path d="M411.17,465.94V460.11M422.58,465.94V462.61M433.98,465.94V462.61M445.39,465.94V462.61M456.80,465.94V462.61M468.21,465.94V462.61M479.61,465.94V462.61M491.02,465.94V462.61M502.43,465.94V462.61M513.83,465.94V462.61M525.24,465.94V460.11M536.65,465.94V462.61M548.05,465.94V462.61M559.46,465.94V462.61M570.87,465.94V462.61M582.27,465.94V462.61M593.68,465.94V462.61M605.09,465.94V462.61M616.50,465.94V462.61M627.90,465.94V462.61M639.31,465.94V460.11M650.72,465.94V462.61M662.12,465.94V462.61M411.17,408.50H417.00M411.17,337.04H417.00M411.17,265.58H417.00M411.17,194.12H417.00M411.17,122.66H417.00M411.17,51.20H417.00" stroke="#000" stroke-width="1.6" fill="none"/>
<g clip-path="url(#cb)">
<line x1="482.46" y1="148.20" x2="482.46" y2="250.80" stroke="#ff0000" stroke-width="3.0"/>
<line x1="553.76" y1="122.80" x2="553.76" y2="175.00" stroke="#ff0000" stroke-width="3.0"/>
<line x1="601.29" y1="92.00" x2="601.29" y2="136.20" stroke="#ff0000" stroke-width="3.0"/>
<line x1="648.82" y1="48.80" x2="648.82" y2="89.60" stroke="#ff0000" stroke-width="3.0"/>
<line x1="482.46" y1="386.00" x2="482.46" y2="446.00" stroke="#ff0000" stroke-width="3.0"/>
<line x1="553.76" y1="398.60" x2="553.76" y2="427.60" stroke="#ff0000" stroke-width="3.0"/>
<line x1="601.29" y1="402.40" x2="601.29" y2="424.80" stroke="#ff0000" stroke-width="3.0"/>
<line x1="648.82" y1="415.30" x2="648.82" y2="439.30" stroke="#ff0000" stroke-width="3.0"/>
<line x1="482.46" y1="117.20" x2="482.46" y2="245.20" stroke="#bf00bf" stroke-width="3.0"/>
<line x1="553.76" y1="132.90" x2="553.76" y2="195.50" stroke="#bf00bf" stroke-width="3.0"/>
<line x1="601.29" y1="130.80" x2="601.29" y2="175.40" stroke="#bf00bf" stroke-width="3.0"/>
<line x1="648.82" y1="130.30" x2="648.82" y2="164.50" stroke="#bf00bf" stroke-width="3.0"/>
<line x1="482.46" y1="317.05" x2="482.46" y2="383.05" stroke="#bf00bf" stroke-width="3.0"/>
<line x1="553.76" y1="314.40" x2="553.76" y2="344.20" stroke="#bf00bf" stroke-width="3.0"/>
<line x1="601.29" y1="305.10" x2="601.29" y2="326.30" stroke="#bf00bf" stroke-width="3.0"/>
<line x1="648.82" y1="295.30" x2="648.82" y2="311.30" stroke="#bf00bf" stroke-width="3.0"/>
<line x1="482.46" y1="134.80" x2="482.46" y2="236.00" stroke="#0000ff" stroke-width="3.0"/>
<line x1="553.76" y1="151.70" x2="553.76" y2="201.70" stroke="#0000ff" stroke-width="3.0"/>
<line x1="601.29" y1="140.20" x2="601.29" y2="174.80" stroke="#0000ff" stroke-width="3.0"/>
<line x1="648.82" y1="141.00" x2="648.82" y2="167.20" stroke="#0000ff" stroke-width="3.0"/>
<line x1="482.46" y1="330.20" x2="482.46" y2="380.00" stroke="#0000ff" stroke-width="3.0"/>
<line x1="553.76" y1="318.00" x2="553.76" y2="341.80" stroke="#0000ff" stroke-width="3.0"/>
<line x1="601.29" y1="303.10" x2="601.29" y2="323.10" stroke="#0000ff" stroke-width="3.0"/>
<line x1="648.82" y1="295.00" x2="648.82" y2="307.00" stroke="#0000ff" stroke-width="3.0"/>
<circle cx="482.46" cy="199.60" r="5.83" fill="none" stroke="#ff0000" stroke-width="1.67"/>
<circle cx="553.76" cy="148.90" r="5.83" fill="none" stroke="#ff0000" stroke-width="1.67"/>
<circle cx="601.29" cy="114.10" r="5.83" fill="none" stroke="#ff0000" stroke-width="1.67"/>
<circle cx="648.82" cy="69.00" r="5.83" fill="none" stroke="#ff0000" stroke-width="1.67"/>
<circle cx="482.46" cy="416.00" r="5.83" fill="#ff0000" stroke="#ff0000" stroke-width="1.67"/>
<circle cx="553.76" cy="413.00" r="5.83" fill="#ff0000" stroke="#ff0000" stroke-width="1.67"/>
<circle cx="601.29" cy="413.60" r="5.83" fill="#ff0000" stroke="#ff0000" stroke-width="1.67"/>
<circle cx="648.82" cy="427.20" r="5.83" fill="#ff0000" stroke="#ff0000" stroke-width="1.67"/>
<path d="M482.46,173.05L490.71,181.30L482.46,189.55L474.21,181.30Z" fill="none" stroke="#bf00bf" stroke-width="1.67" stroke-linejoin="miter"/>
<path d="M553.76,155.95L562.01,164.20L553.76,172.45L545.51,164.20Z" fill="none" stroke="#bf00bf" stroke-width="1.67" stroke-linejoin="miter"/>
<path d="M601.29,144.75L609.54,153.00L601.29,161.25L593.04,153.00Z" fill="none" stroke="#bf00bf" stroke-width="1.67" stroke-linejoin="miter"/>
<path d="M648.82,139.15L657.07,147.40L648.82,155.65L640.57,147.40Z" fill="none" stroke="#bf00bf" stroke-width="1.67" stroke-linejoin="miter"/>
<path d="M482.46,342.15L490.71,350.40L482.46,358.65L474.21,350.40Z" fill="#bf00bf" stroke="#bf00bf" stroke-width="1.67" stroke-linejoin="miter"/>
<path d="M553.76,320.85L562.01,329.10L553.76,337.35L545.51,329.10Z" fill="#bf00bf" stroke="#bf00bf" stroke-width="1.67" stroke-linejoin="miter"/>
<path d="M601.29,307.45L609.54,315.70L601.29,323.95L593.04,315.70Z" fill="#bf00bf" stroke="#bf00bf" stroke-width="1.67" stroke-linejoin="miter"/>
<path d="M648.82,295.05L657.07,303.30L648.82,311.55L640.57,303.30Z" fill="#bf00bf" stroke="#bf00bf" stroke-width="1.67" stroke-linejoin="miter"/>
<rect x="476.63" y="179.86" width="11.67" height="11.67" fill="none" stroke="#0000ff" stroke-width="1.67" stroke-linejoin="miter"/>
<rect x="547.92" y="170.97" width="11.67" height="11.67" fill="none" stroke="#0000ff" stroke-width="1.67" stroke-linejoin="miter"/>
<rect x="595.45" y="151.36" width="11.67" height="11.67" fill="none" stroke="#0000ff" stroke-width="1.67" stroke-linejoin="miter"/>
<rect x="642.98" y="147.56" width="11.67" height="11.67" fill="none" stroke="#0000ff" stroke-width="1.67" stroke-linejoin="miter"/>
<rect x="476.63" y="349.47" width="11.67" height="11.67" fill="#0000ff" stroke="#0000ff" stroke-width="1.67" stroke-linejoin="miter"/>
<rect x="547.92" y="323.56" width="11.67" height="11.67" fill="#0000ff" stroke="#0000ff" stroke-width="1.67" stroke-linejoin="miter"/>
<rect x="595.45" y="307.27" width="11.67" height="11.67" fill="#0000ff" stroke="#0000ff" stroke-width="1.67" stroke-linejoin="miter"/>
<rect x="642.98" y="295.17" width="11.67" height="11.67" fill="#0000ff" stroke="#0000ff" stroke-width="1.67" stroke-linejoin="miter"/>
</g>
<rect x="411.17" y="28.75" width="250.93" height="437.19" fill="none" stroke="#000" stroke-width="1.65"/>
<text transform="translate(375.33,416.05)" fill="#000000" stroke="#000000" stroke-width="0.4"><tspan x="-0.82" y="0.00" font-size="21.046" textLength="11.615" lengthAdjust="spacingAndGlyphs">0</tspan><tspan x="11.47" y="0.00" font-size="22.964" textLength="5.917" lengthAdjust="spacingAndGlyphs">.</tspan><tspan x="18.07" y="0.00" font-size="20.980" textLength="11.616" lengthAdjust="spacingAndGlyphs">4</tspan></text>
<text transform="translate(375.46,344.59)" fill="#000000" stroke="#000000" stroke-width="0.4"><tspan x="-0.84" y="0.00" font-size="21.046" textLength="11.660" lengthAdjust="spacingAndGlyphs">0</tspan><tspan x="11.46" y="0.00" font-size="22.964" textLength="5.940" lengthAdjust="spacingAndGlyphs">.</tspan><tspan x="17.90" y="0.00" font-size="21.046" textLength="11.964" lengthAdjust="spacingAndGlyphs">6</tspan></text>
<text transform="translate(375.57,273.13)" fill="#000000" stroke="#000000" stroke-width="0.4"><tspan x="-0.83" y="0.00" font-size="21.046" textLength="11.629" lengthAdjust="spacingAndGlyphs">0</tspan><tspan x="11.47" y="0.00" font-size="22.964" textLength="5.924" lengthAdjust="spacingAndGlyphs">.</tspan><tspan x="18.02" y="0.00" font-size="21.046" textLength="11.723" lengthAdjust="spacingAndGlyphs">8</tspan></text>
<text transform="translate(376.40,201.67)" fill="#000000" stroke="#000000" stroke-width="0.4"><tspan x="-1.56" y="0.00" font-size="20.980" textLength="11.167" lengthAdjust="spacingAndGlyphs">1</tspan><tspan x="10.61" y="0.00" font-size="22.964" textLength="5.889" lengthAdjust="spacingAndGlyphs">.</tspan><tspan x="17.23" y="0.00" font-size="21.046" textLength="11.559" lengthAdjust="spacingAndGlyphs">0</tspan></text>
<text transform="translate(377.07,130.21)" fill="#000000" stroke="#000000" stroke-width="0.4"><tspan x="-1.54" y="0.00" font-size="20.980" textLength="11.118" lengthAdjust="spacingAndGlyphs">1</tspan><tspan x="10.63" y="0.00" font-size="22.964" textLength="5.863" lengthAdjust="spacingAndGlyphs">.</tspan><tspan x="17.15" y="0.00" font-size="21.046" textLength="11.195" lengthAdjust="spacingAndGlyphs">2</tspan></text>
<text transform="translate(376.20,58.75)" fill="#000000" stroke="#000000" stroke-width="0.4"><tspan x="-1.56" y="0.00" font-size="20.980" textLength="11.169" lengthAdjust="spacingAndGlyphs">1</tspan><tspan x="10.61" y="0.00" font-size="22.964" textLength="5.889" lengthAdjust="spacingAndGlyphs">.</tspan><tspan x="17.23" y="0.00" font-size="20.980" textLength="11.561" lengthAdjust="spacingAndGlyphs">4</tspan></text>
<text transform="translate(406.28,487.10)" fill="#000000" stroke="#000000" stroke-width="0.4"><tspan x="-0.82" y="0.00" font-size="21.046" textLength="11.608" lengthAdjust="spacingAndGlyphs">0</tspan></text>
<text transform="translate(514.49,487.10)" fill="#000000" stroke="#000000" stroke-width="0.4"><tspan x="-1.55" y="0.00" font-size="20.980" textLength="11.155" lengthAdjust="spacingAndGlyphs">1</tspan><tspan x="10.94" y="0.00" font-size="21.046" textLength="11.546" lengthAdjust="spacingAndGlyphs">0</tspan></text>
<text transform="translate(628.20,487.10)" fill="#000000" stroke="#000000" stroke-width="0.4"><tspan x="-1.04" y="0.00" font-size="21.046" textLength="11.242" lengthAdjust="spacingAndGlyphs">2</tspan><tspan x="11.66" y="0.00" font-size="21.046" textLength="11.556" lengthAdjust="spacingAndGlyphs">0</tspan></text>
<text transform="translate(427.10,512.65)" fill="#000000" stroke="#000000" stroke-width="0.4"><tspan x="-1.03" y="0.00" font-size="21.046" textLength="12.249" lengthAdjust="spacingAndGlyphs">S</tspan><tspan x="11.78" y="0.00" font-size="20.761" textLength="4.521" lengthAdjust="spacingAndGlyphs">i</tspan> <tspan x="23.29" y="0.00" font-size="20.609" textLength="10.034" lengthAdjust="spacingAndGlyphs">c</tspan><tspan x="34.23" y="0.00" font-size="20.609" textLength="11.655" lengthAdjust="spacingAndGlyphs">o</tspan><tspan x="46.55" y="0.00" font-size="20.609" textLength="11.779" lengthAdjust="spacingAndGlyphs">n</tspan><tspan x="58.88" y="0.00" font-size="20.609" textLength="10.034" lengthAdjust="spacingAndGlyphs">c</tspan><tspan x="69.82" y="0.00" font-size="20.609" textLength="11.795" lengthAdjust="spacingAndGlyphs">e</tspan><tspan x="82.21" y="0.00" font-size="20.609" textLength="11.779" lengthAdjust="spacingAndGlyphs">n</tspan><tspan x="94.70" y="0.00" font-size="21.505" textLength="6.913" lengthAdjust="spacingAndGlyphs">t</tspan><tspan x="102.47" y="0.00" font-size="20.609" textLength="8.028" lengthAdjust="spacingAndGlyphs">r</tspan><tspan x="110.49" y="0.00" font-size="20.609" textLength="10.280" lengthAdjust="spacingAndGlyphs">a</tspan><tspan x="122.77" y="0.00" font-size="21.505" textLength="6.913" lengthAdjust="spacingAndGlyphs">t</tspan><tspan x="130.68" y="0.00" font-size="20.761" textLength="4.521" lengthAdjust="spacingAndGlyphs">i</tspan><tspan x="135.93" y="0.00" font-size="20.609" textLength="11.655" lengthAdjust="spacingAndGlyphs">o</tspan><tspan x="148.25" y="0.00" font-size="20.609" textLength="11.779" lengthAdjust="spacingAndGlyphs">n</tspan> <tspan x="167.17" y="-1.31" font-size="18.928" textLength="5.877" lengthAdjust="spacingAndGlyphs">(</tspan><tspan x="174.65" y="0.00" font-size="20.609" textLength="10.280" lengthAdjust="spacingAndGlyphs">a</tspan><tspan x="186.92" y="0.00" font-size="21.505" textLength="6.913" lengthAdjust="spacingAndGlyphs">t</tspan><tspan x="194.67" y="0.00" font-size="21.179" textLength="18.156" lengthAdjust="spacingAndGlyphs">%</tspan><tspan x="214.54" y="-1.31" font-size="18.928" textLength="5.877" lengthAdjust="spacingAndGlyphs">)</tspan></text>
<text transform="translate(363.90,324.90) rotate(-90)" fill="#000000" stroke="#000000" stroke-width="0.4"><tspan x="-1.69" y="0.00" font-size="20.980" textLength="14.230" lengthAdjust="spacingAndGlyphs">N</tspan><tspan x="13.04" y="0.00" font-size="20.609" textLength="11.579" lengthAdjust="spacingAndGlyphs">o</tspan><tspan x="25.21" y="0.00" font-size="20.609" textLength="7.975" lengthAdjust="spacingAndGlyphs">r</tspan><tspan x="33.11" y="0.00" font-size="20.609" textLength="18.269" lengthAdjust="spacingAndGlyphs">m</tspan><tspan x="52.02" y="0.00" font-size="20.609" textLength="10.213" lengthAdjust="spacingAndGlyphs">a</tspan><tspan x="64.35" y="0.00" font-size="20.761" textLength="4.492" lengthAdjust="spacingAndGlyphs">l</tspan><tspan x="69.83" y="0.00" font-size="20.761" textLength="4.492" lengthAdjust="spacingAndGlyphs">i</tspan><tspan x="74.83" y="0.00" font-size="20.495" textLength="10.472" lengthAdjust="spacingAndGlyphs">z</tspan><tspan x="85.38" y="0.00" font-size="20.609" textLength="11.718" lengthAdjust="spacingAndGlyphs">e</tspan><tspan x="97.51" y="0.00" font-size="20.761" textLength="11.773" lengthAdjust="spacingAndGlyphs">d</tspan> <tspan x="116.00" y="0.00" font-size="21.046" textLength="13.582" lengthAdjust="spacingAndGlyphs">C</tspan><tspan x="129.96" y="0.00" font-size="22.964" textLength="5.862" lengthAdjust="spacingAndGlyphs">.</tspan><tspan x="136.28" y="0.00" font-size="20.980" textLength="14.230" lengthAdjust="spacingAndGlyphs">N</tspan><tspan x="150.95" y="0.00" font-size="22.964" textLength="5.862" lengthAdjust="spacingAndGlyphs">.</tspan></text>
<text transform="translate(354.00,16.60)" fill="#000000" stroke="#000000" stroke-width="0.4"><tspan x="-1.15" y="-1.31" font-size="18.928" textLength="5.792" lengthAdjust="spacingAndGlyphs">(</tspan><tspan x="6.68" y="0.00" font-size="20.761" textLength="11.689" lengthAdjust="spacingAndGlyphs">b</tspan><tspan x="20.16" y="-1.31" font-size="18.928" textLength="5.792" lengthAdjust="spacingAndGlyphs">)</tspan></text>
<line x1="404.75" y1="-1.00" x2="404.75" y2="17.90" stroke="#ff0000" stroke-width="2.7"/>
<circle cx="404.80" cy="8.70" r="5.83" fill="#ff0000" stroke="#ff0000" stroke-width="1.67"/>
<text transform="translate(433.40,15.20)" fill="#000000" stroke="#000000" stroke-width="0.4"><tspan x="-1.51" y="0.00" font-size="19.232" textLength="9.942" lengthAdjust="spacingAndGlyphs">F</tspan><tspan x="7.80" y="0.00" font-size="19.031" textLength="4.127" lengthAdjust="spacingAndGlyphs">i</tspan><tspan x="12.72" y="0.00" font-size="18.891" textLength="7.327" lengthAdjust="spacingAndGlyphs">r</tspan><tspan x="20.27" y="0.00" font-size="18.943" textLength="8.850" lengthAdjust="spacingAndGlyphs">s</tspan><tspan x="29.64" y="0.00" font-size="19.713" textLength="6.310" lengthAdjust="spacingAndGlyphs">t</tspan> <tspan x="42.45" y="0.00" font-size="19.292" textLength="11.180" lengthAdjust="spacingAndGlyphs">S</tspan><tspan x="54.06" y="0.00" font-size="19.031" textLength="10.808" lengthAdjust="spacingAndGlyphs">h</tspan><tspan x="65.45" y="0.00" font-size="18.891" textLength="10.766" lengthAdjust="spacingAndGlyphs">e</tspan><tspan x="76.83" y="0.00" font-size="19.031" textLength="4.127" lengthAdjust="spacingAndGlyphs">l</tspan><tspan x="81.88" y="0.00" font-size="19.031" textLength="4.127" lengthAdjust="spacingAndGlyphs">l</tspan></text>
<line x1="543.10" y1="-1.00" x2="543.10" y2="17.90" stroke="#ff0000" stroke-width="2.7"/>
<circle cx="543.10" cy="8.80" r="5.83" fill="none" stroke="#ff0000" stroke-width="1.67"/>
<text transform="translate(571.00,15.20)" fill="#000000" stroke="#000000" stroke-width="0.4"><tspan x="-0.92" y="0.00" font-size="19.292" textLength="11.164" lengthAdjust="spacingAndGlyphs">S</tspan><tspan x="10.57" y="0.00" font-size="18.891" textLength="10.751" lengthAdjust="spacingAndGlyphs">e</tspan><tspan x="21.70" y="0.00" font-size="18.891" textLength="9.145" lengthAdjust="spacingAndGlyphs">c</tspan><tspan x="31.72" y="0.00" font-size="18.891" textLength="10.623" lengthAdjust="spacingAndGlyphs">o</tspan><tspan x="43.00" y="0.00" font-size="18.891" textLength="10.736" lengthAdjust="spacingAndGlyphs">n</tspan><tspan x="54.33" y="0.00" font-size="19.031" textLength="10.801" lengthAdjust="spacingAndGlyphs">d</tspan> <tspan x="71.64" y="0.00" font-size="19.292" textLength="11.164" lengthAdjust="spacingAndGlyphs">S</tspan><tspan x="83.26" y="0.00" font-size="19.031" textLength="10.792" lengthAdjust="spacingAndGlyphs">h</tspan><tspan x="94.64" y="0.00" font-size="18.891" textLength="10.751" lengthAdjust="spacingAndGlyphs">e</tspan><tspan x="106.02" y="0.00" font-size="19.031" textLength="4.121" lengthAdjust="spacingAndGlyphs">l</tspan><tspan x="111.06" y="0.00" font-size="19.031" textLength="4.121" lengthAdjust="spacingAndGlyphs">l</tspan></text>
</svg></body></html>
